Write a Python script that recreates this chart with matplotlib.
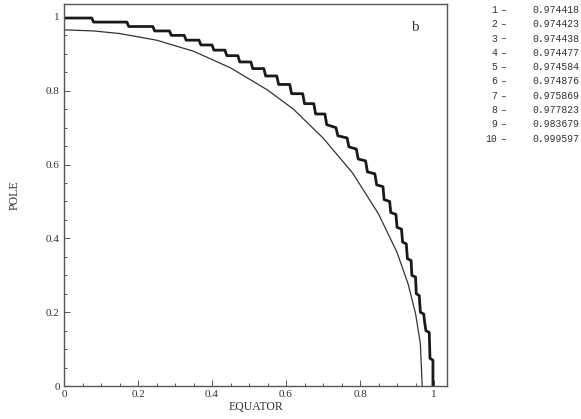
import matplotlib

matplotlib.use("Agg")
import matplotlib.pyplot as plt
from matplotlib.ticker import MultipleLocator

# thin curve
thin_x = [0.0, 0.08, 0.15, 0.25, 0.35, 0.45, 0.55, 0.62, 0.70, 0.78, 0.85, 0.90, 0.93, 0.95, 0.963, 0.968]
thin_y = [0.965, 0.962, 0.955, 0.937, 0.907, 0.862, 0.802, 0.750, 0.672, 0.577, 0.466, 0.362, 0.276, 0.196, 0.115, 0.0]

# thick staircase curve (vertices)
thick_x = [0.0, 0.075, 0.08, 0.17, 0.175, 0.24, 0.245, 0.285, 0.29, 0.325, 0.33, 0.365, 0.37, 0.40,
           0.405, 0.435, 0.44, 0.47, 0.475, 0.505, 0.51, 0.54, 0.545, 0.575, 0.58, 0.61, 0.615, 0.645,
           0.65, 0.675, 0.68, 0.705, 0.71, 0.735, 0.74, 0.765, 0.77, 0.79, 0.795, 0.815, 0.82, 0.84,
           0.845, 0.862, 0.865, 0.88, 0.883, 0.897, 0.90, 0.912, 0.915, 0.925, 0.928, 0.938, 0.94,
           0.95, 0.952, 0.96, 0.963, 0.972, 0.975, 0.978, 0.987, 0.989, 0.997, 0.997]
thick_y = [0.997, 0.997, 0.986, 0.986, 0.974, 0.974, 0.962, 0.962, 0.950, 0.950, 0.937, 0.937, 0.924, 0.924,
           0.910, 0.910, 0.895, 0.895, 0.878, 0.878, 0.860, 0.860, 0.840, 0.840, 0.817, 0.817, 0.792, 0.792,
           0.765, 0.765, 0.737, 0.737, 0.708, 0.700, 0.678, 0.672, 0.648, 0.642, 0.615, 0.610, 0.580, 0.575,
           0.545, 0.540, 0.505, 0.500, 0.470, 0.465, 0.430, 0.425, 0.390, 0.385, 0.345, 0.340, 0.300,
           0.295, 0.250, 0.245, 0.200, 0.195, 0.170, 0.150, 0.145, 0.075, 0.070, 0.0]

legend_ids = ["1", "2", "3", "4", "5", "6", "7", "8", "9", "10"]
legend_vals = ["0.974418", "0.974423", "0.974438", "0.974477", "0.974584",
               "0.974876", "0.975869", "0.977823", "0.983679", "0.999597"]

tick_vals = [0.0, 0.2, 0.4, 0.6, 0.8, 1.0]
tick_labels = ["0", "0.2", "0.4", "0.6", "0.8", "1"]

SERIF = ["Liberation Serif", "DejaVu Serif"]
MONO = ["Liberation Mono", "DejaVu Sans Mono"]
INK = "#333333"

fig = plt.figure(figsize=(5.81, 4.19), dpi=100)
ax = fig.add_axes([64 / 581, 33 / 419, 383 / 581, 382 / 419])

ax.plot(thin_x, thin_y, color=INK, lw=0.9)
ax.plot(thick_x, thick_y, color="#1a1a1a", lw=2.0, solid_joinstyle="round")

ax.set_xlim(0, 1.035)
ax.set_ylim(0, 1.035)
ax.set_xticks(tick_vals)
ax.set_xticklabels(tick_labels)
ax.set_yticks(tick_vals)
ax.set_yticklabels(tick_labels)
ax.xaxis.set_minor_locator(MultipleLocator(0.05))
ax.yaxis.set_minor_locator(MultipleLocator(0.05))
ax.tick_params(which="both", direction="in", top=False, right=False, color="#555555", width=0.7)
ax.tick_params(which="major", length=4, labelsize=8, labelcolor=INK, pad=3)
ax.tick_params(which="minor", length=2.5)
for lab in ax.get_xticklabels() + ax.get_yticklabels():
    lab.set_family(SERIF)
for s in ax.spines.values():
    s.set_color("#555555")
    s.set_linewidth(1.0)

ax.set_xlabel("EQUATOR", family=SERIF, fontsize=8.5, color=INK, labelpad=1)
ax.set_ylabel("POLE", family=SERIF, fontsize=8.5, color=INK, labelpad=18)
ax.text(0.948, 0.97, "b", family=SERIF, fontsize=11, color=INK, ha="center", va="center")

for k, (lid, val) in enumerate(zip(legend_ids, legend_vals)):
    y = 1 - (10 + k * 14.3) / 419
    fig.text(497 / 581, y, lid, family=MONO, fontsize=7, color=INK, ha="right", va="center")
    fig.text(500 / 581, y, "\u2013", family=MONO, fontsize=7, color=INK, ha="left", va="center")
    fig.text(532 / 581, y, val, family=MONO, fontsize=7, color=INK, ha="left", va="center")

fig.savefig("out.png", dpi=100)
